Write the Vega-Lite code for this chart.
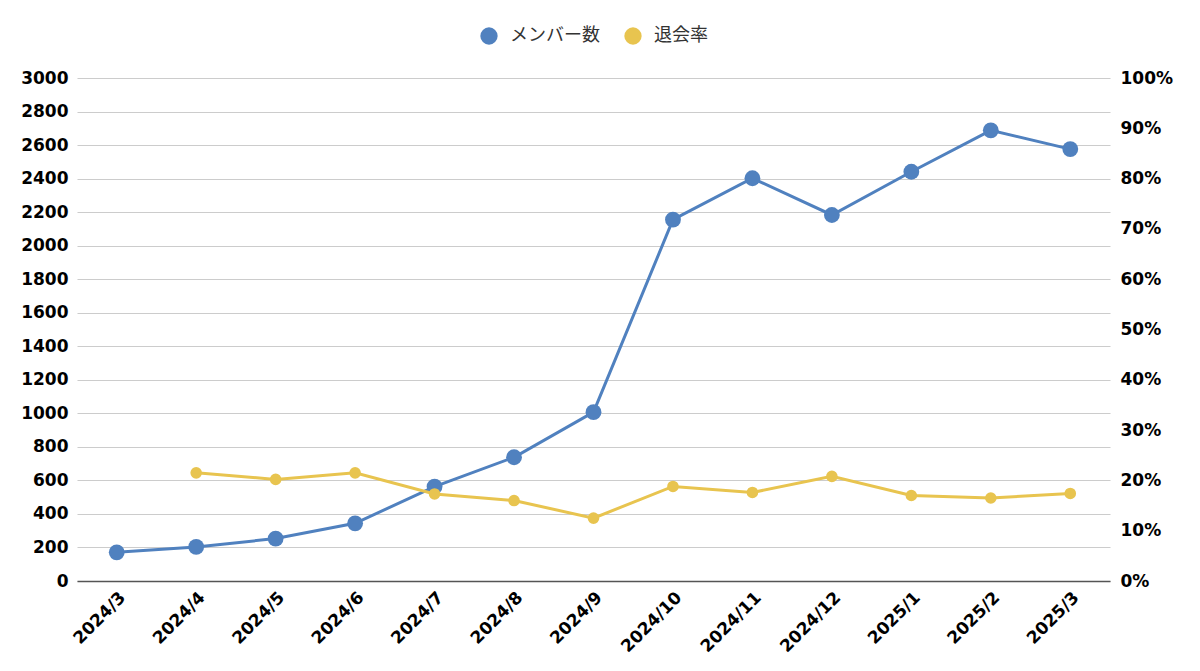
{
  "$schema": "https://vega.github.io/schema/vega-lite/v6.json",
  "width": 1033,
  "height": 503,
  "autosize": {"type": "none"},
  "padding": {"left": 77, "top": 78, "right": 90, "bottom": 90},
  "background": "white",
  "data": {
    "values": [
      {"month": "2024/3", "members": 171, "rate": null},
      {"month": "2024/4", "members": 203, "rate": 0.215},
      {"month": "2024/5", "members": 253, "rate": 0.202},
      {"month": "2024/6", "members": 344, "rate": 0.215},
      {"month": "2024/7", "members": 563, "rate": 0.173},
      {"month": "2024/8", "members": 738, "rate": 0.160},
      {"month": "2024/9", "members": 1007, "rate": 0.125},
      {"month": "2024/10", "members": 2155, "rate": 0.188},
      {"month": "2024/11", "members": 2402, "rate": 0.176},
      {"month": "2024/12", "members": 2183, "rate": 0.208},
      {"month": "2025/1", "members": 2441, "rate": 0.170},
      {"month": "2025/2", "members": 2688, "rate": 0.165},
      {"month": "2025/3", "members": 2576, "rate": 0.174}
    ]
  },
  "encoding": {
    "x": {
      "field": "month",
      "type": "ordinal",
      "sort": null,
      "scale": {"type": "point", "padding": 0.5},
      "axis": {
        "title": null,
        "labelAngle": -45,
        "labelFont": "DejaVu Sans",
        "labelFontWeight": "bold",
        "labelFontSize": 17,
        "labelColor": "black",
        "labelPadding": 8,
        "ticks": false,
        "domain": true,
        "domainColor": "#555555",
        "domainWidth": 1.5,
        "grid": false
      }
    }
  },
  "layer": [
    {
      "encoding": {
        "y": {
          "field": "members",
          "type": "quantitative",
          "scale": {"domain": [0, 3000]},
          "axis": {
            "orient": "left",
            "title": null,
            "values": [0, 200, 400, 600, 800, 1000, 1200, 1400, 1600, 1800, 2000, 2200, 2400, 2600, 2800, 3000],
            "format": "d",
            "labelFont": "DejaVu Sans",
            "labelFontWeight": "bold",
            "labelFontSize": 17,
            "labelColor": "black",
            "labelPadding": 9,
            "ticks": false,
            "domain": false,
            "grid": true,
            "gridColor": "#cccccc",
            "gridWidth": 1.2
          }
        },
        "color": {"datum": "メンバー数"}
      },
      "layer": [
        {"mark": {"type": "line", "strokeWidth": 3, "color": "#5081BF"}},
        {"mark": {"type": "circle", "size": 250, "opacity": 1, "color": "#5081BF"}}
      ]
    },
    {
      "transform": [{"filter": "datum.rate != null"}],
      "encoding": {
        "y": {
          "field": "rate",
          "type": "quantitative",
          "scale": {"domain": [0, 1]},
          "axis": {
            "orient": "right",
            "title": null,
            "values": [0, 0.1, 0.2, 0.3, 0.4, 0.5, 0.6, 0.7, 0.8, 0.9, 1],
            "format": ".0%",
            "labelFont": "DejaVu Sans",
            "labelFontWeight": "bold",
            "labelFontSize": 17,
            "labelColor": "black",
            "labelPadding": 10,
            "ticks": false,
            "domain": false,
            "grid": false
          }
        },
        "color": {"datum": "退会率"}
      },
      "layer": [
        {"mark": {"type": "line", "strokeWidth": 3, "color": "#E8C44F"}},
        {"mark": {"type": "circle", "size": 135, "opacity": 1, "color": "#E8C44F"}}
      ]
    }
  ],
  "resolve": {"scale": {"y": "independent"}},
  "config": {
    "view": {"stroke": null},
    "range": {"category": ["#5081BF", "#E8C44F"]},
    "legend": {
      "orient": "none",
      "legendX": 403,
      "legendY": -51,
      "direction": "horizontal",
      "title": null,
      "symbolType": "circle",
      "symbolSize": 300,
      "symbolStrokeWidth": 0,
      "symbolOpacity": 1,
      "labelFont": "Noto Sans CJK JP",
      "labelFontSize": 18,
      "labelColor": "#333333",
      "labelOffset": 12,
      "columnPadding": 24
    }
  }
}
